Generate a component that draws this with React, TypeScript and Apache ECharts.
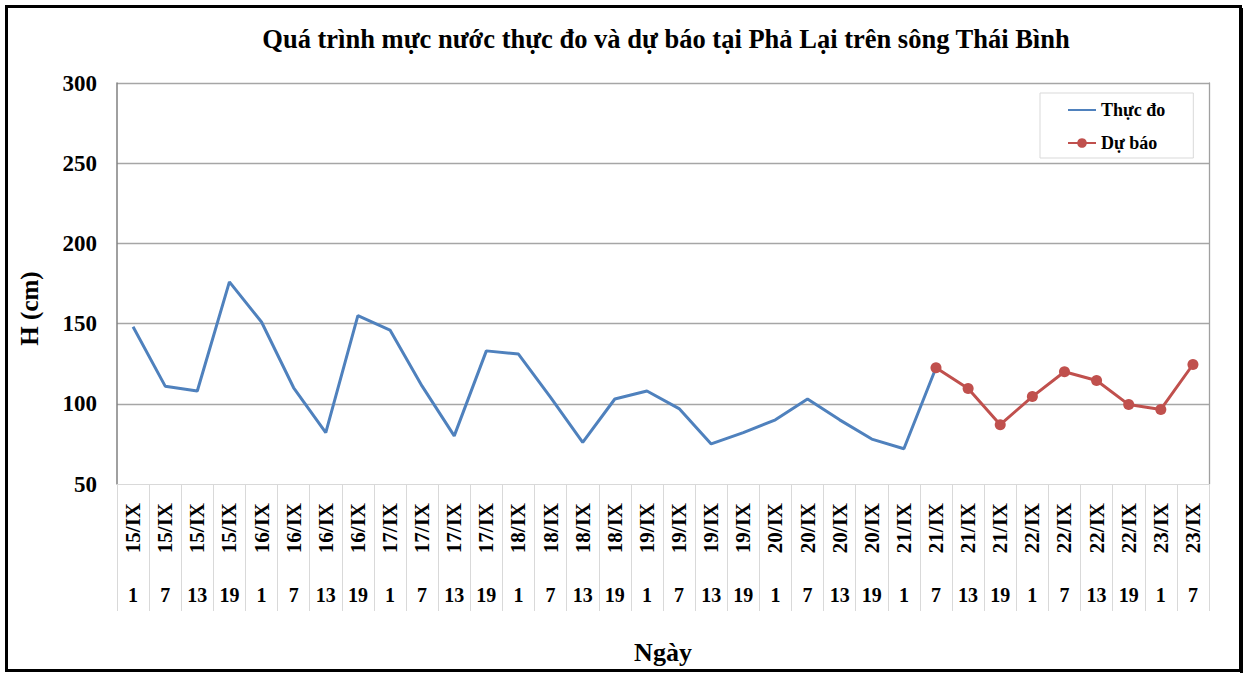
import React, { useEffect, useRef } from "react";
import * as echarts from "echarts";

const FONT = "'Liberation Serif', 'Times New Roman', serif";

const titleText = "Quá trình mực nước thực đo và dự báo tại Phả Lại trên sông Thái Bình";

const dates = [
  "15/IX", "15/IX", "15/IX", "15/IX",
  "16/IX", "16/IX", "16/IX", "16/IX",
  "17/IX", "17/IX", "17/IX", "17/IX",
  "18/IX", "18/IX", "18/IX", "18/IX",
  "19/IX", "19/IX", "19/IX", "19/IX",
  "20/IX", "20/IX", "20/IX", "20/IX",
  "21/IX", "21/IX", "21/IX", "21/IX",
  "22/IX", "22/IX", "22/IX", "22/IX",
  "23/IX", "23/IX",
];

const hours = [
  "1", "7", "13", "19",
  "1", "7", "13", "19",
  "1", "7", "13", "19",
  "1", "7", "13", "19",
  "1", "7", "13", "19",
  "1", "7", "13", "19",
  "1", "7", "13", "19",
  "1", "7", "13", "19",
  "1", "7",
];

const observed = [
  148, 111, 108, 176, 151, 110, 82, 155, 146, 111, 80, 133, 131, 104, 76, 103,
  108, 97, 75, 82, 90, 103, 90, 78, 72, 122.5,
];

const forecast = [
  null, null, null, null, null, null, null, null, null, null, null, null, null,
  null, null, null, null, null, null, null, null, null, null, null, null,
  122.5, 109.5, 87, 104.5, 120, 114.5, 99.5, 96.5, 124.5,
];

const yTicks = { min: 50, max: 300, interval: 50 };

export default function App() {
  const ref = useRef<HTMLDivElement>(null);

  useEffect(() => {
    if (!ref.current) return;
    const chart = echarts.init(ref.current, null, { renderer: "svg" });
    chart.setOption({
      animation: false,
      backgroundColor: "#fff",
      title: {
        text: titleText,
        left: 661,
        top: 20,
        textAlign: "center",
        textStyle: { fontFamily: FONT, fontWeight: "bold", fontSize: 26.5, color: "#000" },
      },
      legend: {
        orient: "vertical",
        left: 1040,
        top: 93,
        padding: [8, 28, 6, 27],
        itemGap: 15,
        itemWidth: 28,
        itemHeight: 12,
        borderColor: "#d9d9d9",
        borderWidth: 1,
        textStyle: { fontFamily: FONT, fontWeight: "bold", fontSize: 18, color: "#000" },
        data: [
          { name: "Thực đo", itemStyle: { opacity: 0 } },
          { name: "Dự báo" },
        ],
      },
      grid: { left: 117, right: 37, top: 83, bottom: 189, containLabel: false },
      xAxis: [
        {
          type: "category",
          data: dates,
          boundaryGap: true,
          position: "bottom",
          axisLine: { show: true, lineStyle: { color: "#d9d9d9", width: 1 } },
          axisTick: { show: true, interval: 0, length: 127, lineStyle: { color: "#d9d9d9", width: 1 } },
          axisLabel: {
            interval: 0,
            rotate: 90,
            margin: 19,
            fontFamily: FONT,
            fontWeight: "bold",
            fontSize: 21,
            color: "#000",
          },
        },
        {
          type: "category",
          data: hours,
          boundaryGap: true,
          position: "bottom",
          axisLine: { show: false },
          axisTick: { show: false },
          axisLabel: {
            interval: 0,
            margin: 101,
            fontFamily: FONT,
            fontWeight: "bold",
            fontSize: 20,
            color: "#000",
          },
          name: "Ngày",
          nameLocation: "middle",
          nameGap: 155,
          nameTextStyle: { fontFamily: FONT, fontWeight: "bold", fontSize: 26, color: "#000" },
        },
      ],
      yAxis: [
        {
          type: "value",
          min: yTicks.min,
          max: yTicks.max,
          interval: yTicks.interval,
          axisLine: { show: true, lineStyle: { color: "#808080", width: 1.5 } },
          axisTick: { show: false },
          splitLine: { show: true, showMinLine: false, lineStyle: { color: "#a6a6a6", width: 1.3 } },
          axisLabel: {
            margin: 20,
            fontFamily: FONT,
            fontWeight: "bold",
            fontSize: 23,
            color: "#000",
          },
          name: "H (cm)",
          nameLocation: "middle",
          nameGap: 75,
          nameRotate: 90,
          nameTextStyle: {
            fontFamily: FONT,
            fontWeight: "bold",
            fontSize: 25,
            color: "#000",
            padding: [0, 50, 0, 0],
          },
        },
        {
          type: "value",
          position: "right",
          min: yTicks.min,
          max: yTicks.max,
          interval: yTicks.interval,
          axisLine: { show: true, lineStyle: { color: "#a0a0a0", width: 1.3 } },
          axisTick: { show: false },
          axisLabel: { show: false },
          splitLine: { show: false },
        },
      ],
      series: [
        {
          name: "Thực đo",
          type: "line",
          data: observed,
          xAxisIndex: 0,
          yAxisIndex: 0,
          symbol: "none",
          lineStyle: { color: "#4f81bd", width: 3 },
          itemStyle: { color: "#4f81bd" },
          z: 2,
        },
        {
          name: "Dự báo",
          type: "line",
          data: forecast,
          xAxisIndex: 0,
          yAxisIndex: 0,
          symbol: "circle",
          symbolSize: 11,
          showAllSymbol: true,
          lineStyle: { color: "#c0504d", width: 3 },
          itemStyle: { color: "#c0504d" },
          z: 3,
        },
      ],
      graphic: [
        {
          type: "rect",
          shape: { x: 6.5, y: 6.5, width: 1234, height: 664 },
          style: { fill: "none", stroke: "#000", lineWidth: 3 },
          silent: true,
        },
        {
          type: "line",
          shape: { x1: 1241.5, y1: 8, x2: 1241.5, y2: 673 },
          style: { stroke: "#000", lineWidth: 3 },
          silent: true,
        },
      ],
    });
    return () => chart.dispose();
  }, []);

  return (
    <div
      ref={ref}
      style={{ position: "absolute", left: 0, top: 0, width: 1246, height: 673 }}
    />
  );
}
